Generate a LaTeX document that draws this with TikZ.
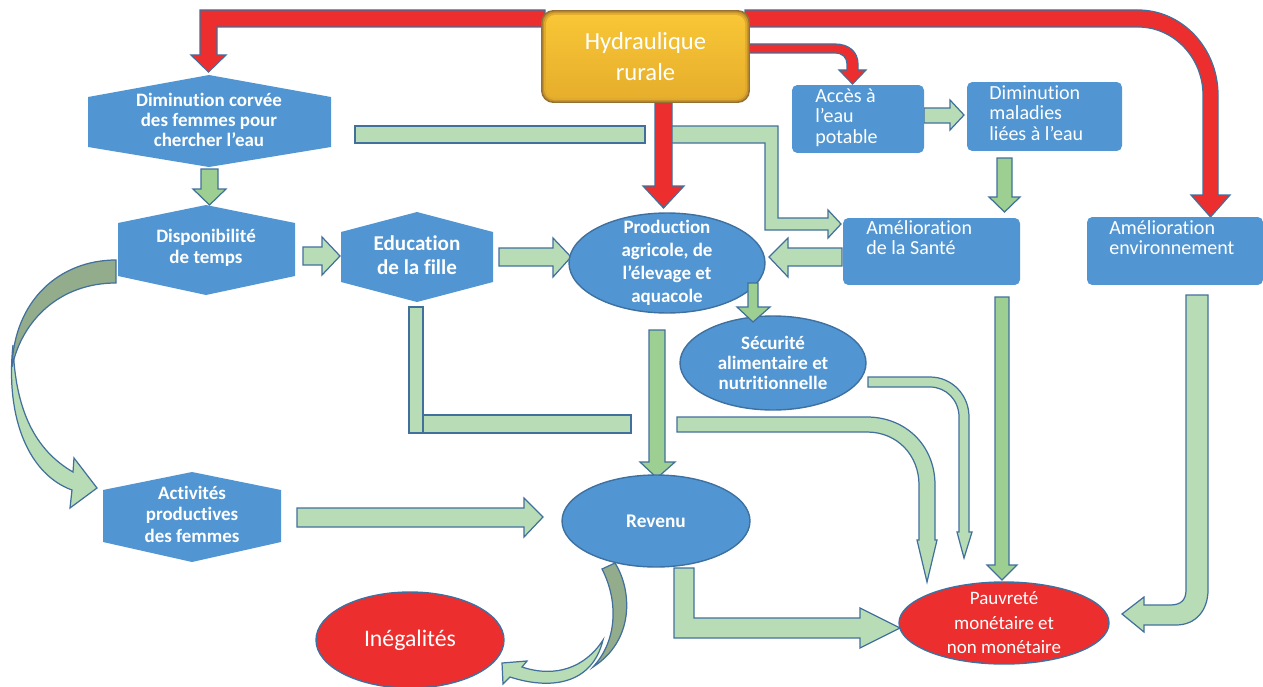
\documentclass[tikz,border=0pt]{standalone}
\usepackage{fontspec}
\setmainfont{Carlito}[Ligatures=NoCommon]
\usetikzlibrary{shapes.geometric}
\definecolor{boxblue}{RGB}{81,150,210}
\definecolor{ovaledge}{RGB}{62,112,160}
\definecolor{edgeblue}{RGB}{66,112,156}
\definecolor{redfill}{RGB}{237,46,46}
\definecolor{lightgreen}{RGB}{184,221,182}
\definecolor{midgreen}{RGB}{157,207,146}
\definecolor{backgreen}{RGB}{146,172,140}
\definecolor{goldedge}{RGB}{150,112,48}
\definecolor{goldmid}{RGB}{196,146,46}
\definecolor{goldin}{RGB}{226,170,44}
\definecolor{goldtop}{RGB}{248,198,54}
\definecolor{goldbot}{RGB}{230,174,44}
\begin{document}
\begin{tikzpicture}[x=0.02cm,y=-0.02cm,
  greenarrow/.style={fill=lightgreen,draw=edgeblue,line width=0.7pt},
  darkarrow/.style={fill=midgreen,draw=edgeblue,line width=0.7pt},
  backarrow/.style={fill=backgreen,draw=edgeblue,line width=0.7pt},
  redarrow/.style={fill=redfill,draw=edgeblue,line width=0.7pt},
  hexshape/.style={fill=boxblue},
  hextext/.style={text=white,font=\bfseries\fontsize{10.8}{11.6}\selectfont,align=center,inner sep=0pt},
  boxshape/.style={rectangle,fill=boxblue,rounded corners=3pt,inner sep=0pt},
  boxtext/.style={text=white,font=\fontsize{11.4}{11.8}\selectfont,align=left,anchor=north west,inner sep=0pt},
  oval/.style={ellipse,draw=ovaledge,line width=0.8pt,inner sep=0pt},
  ovaltext/.style={text=white,align=center,inner sep=0pt},
]
\useasboundingbox (0,0) rectangle (1263,686);

% ---------- green connectors ----------
% bar from the corvee hexagon towards the centre
\draw[greenarrow] (355,126) rectangle (645,143);
% elbow towards health improvement
\draw[greenarrow] (660,126) -- (778,126) -- (778,218) -- (828,218) -- (828,210) -- (841,224)
  -- (828,238) -- (828,230) -- (765,230) -- (765,143) -- (660,143) -- cycle;
% diminution corvee -> disponibilite
\draw[darkarrow] (201,169) -- (218,169) -- (218,189) -- (226,189) -- (209.5,205) -- (193,189)
  -- (201,189) -- cycle;
% disponibilite -> education
\draw[greenarrow] (303,247) -- (322,247) -- (322,237) -- (340,256) -- (322,275) -- (322,265)
  -- (303,265) -- cycle;
% education -> production
\draw[greenarrow] (499,248) -- (553,248) -- (553,238) -- (571,257) -- (553,277) -- (553,266)
  -- (499,266) -- cycle;
% acces -> diminution maladies
\draw[greenarrow] (924,108) -- (950,108) -- (950,100) -- (964,115) -- (950,130) -- (950,123)
  -- (924,123) -- cycle;
% diminution maladies -> sante
\draw[darkarrow] (997,158) -- (1012,158) -- (1012,197) -- (1020,197) -- (1004.5,212) -- (989,197)
  -- (997,197) -- cycle;
% sante -> production
\draw[greenarrow] (842,248) -- (788,248) -- (788,238) -- (769,257) -- (788,277) -- (788,266)
  -- (842,266) -- cycle;
% production -> revenu
\draw[darkarrow] (649,330) -- (665,330) -- (665,462) -- (675,462) -- (657,478) -- (640,462)
  -- (649,462) -- cycle;
% education -> pauvrete (two bars, then curved arrow)
\draw[greenarrow] (409,307) rectangle (423,433);
\draw[greenarrow] (423,415) rectangle (631,433);
\draw[greenarrow] (677,417) -- (867,417) .. controls (905,417) and (935,445) .. (935,485)
  -- (935,540) -- (937,540) -- (927,582) -- (917,540) -- (919,540) -- (919,485)
  .. controls (919,455) and (897,432) .. (867,432) -- (677,432) -- cycle;
% securite -> pauvrete
\draw[greenarrow] (868,377) -- (930,377) .. controls (952,377) and (969,395) .. (969,417)
  -- (969,532) -- (972,532) -- (964,558) -- (957,532) -- (959,532) -- (959,417)
  .. controls (959,400) and (946,387) .. (930,387) -- (868,387) -- cycle;
% sante -> pauvrete
\draw[darkarrow] (995,297) -- (1009,297) -- (1009,565) -- (1017,565) -- (1002,580) -- (987,565)
  -- (995,565) -- cycle;
% environnement -> pauvrete
\draw[greenarrow] (1186,295) -- (1208,295) -- (1208,590) .. controls (1208,610) and (1196,625) .. (1176,625)
  -- (1144,625) -- (1144,632) -- (1122,614) -- (1144,597) -- (1144,605) -- (1170,605)
  .. controls (1181,605) and (1186,600) .. (1186,590) -- cycle;
% revenu -> pauvrete
\draw[greenarrow] (674,568) -- (694,568) -- (694,618) -- (860,618) -- (860,608) -- (900,628)
  -- (860,648) -- (860,638) -- (674,638) -- cycle;
% activites -> revenu
\draw[greenarrow] (297,508) -- (524,508) -- (524,498) -- (543,517) -- (524,537) -- (524,527)
  -- (297,527) -- cycle;
% curved arrow disponibilite -> activites
\draw[greenarrow] (13,345) .. controls (5,420) and (30,475) .. (72,490) -- (70,508) -- (97,488)
  -- (74,458) -- (73,472) .. controls (35,450) and (15,410) .. (13,345) -- cycle;
\draw[backarrow] (116,260) .. controls (60,260) and (14,300) .. (12,367)
  .. controls (22,320) and (60,283) .. (116,283) -- cycle;
% curved arrow revenu -> inegalites
\draw[greenarrow] (603,640) .. controls (592,685) and (550,690) .. (510,677) -- (503,684) -- (502,663)
  -- (527,661) -- (522,667) .. controls (555,678) and (585,668) .. (603,640) -- cycle;
\draw[backarrow] (602,569) -- (615,563) .. controls (632,590) and (635,640) .. (593,667)
  .. controls (618,640) and (618,600) .. (602,569) -- cycle;

% ---------- red connectors ----------
\draw[redarrow] (545,10) -- (200,10) -- (200,55) -- (191,55) -- (208.5,72) -- (226,55) -- (217,55)
  -- (217,27) -- (545,27) -- cycle;
\draw[redarrow] (745,10) -- (1138,10) .. controls (1182,10) and (1218,48) .. (1218,95) -- (1218,195)
  -- (1230,195) -- (1210.5,217) -- (1191,195) -- (1203,195) -- (1203,95)
  .. controls (1203,58) and (1174,27) .. (1138,27) -- (745,27) -- cycle;
\draw[redarrow] (745,44) -- (835,44) .. controls (849,44) and (858,52) .. (858,64) -- (858,70)
  -- (866,70) -- (852.5,84) -- (839,70) -- (847,70) -- (847,64)
  .. controls (847,58) and (843,53) .. (835,53) -- (745,53) -- cycle;
\draw[redarrow] (655,100) -- (672,100) -- (672,186) -- (684,186) -- (663.5,208) -- (643,186)
  -- (655,186) -- cycle;

% ---------- source box (soft bevelled gold) ----------
\node[rectangle,rounded corners=7pt,fill=goldedge,minimum width=4.18cm,minimum height=1.86cm,
  inner sep=0pt] (hyd) at (645.5,56.5) {};
\fill[goldmid,rounded corners=6.5pt] (542.5,11.5) rectangle (748.5,101.5);
\fill[goldin,rounded corners=6pt] (544,13) rectangle (747,100);
\shade[top color=goldtop,bottom color=goldbot,rounded corners=5pt] (546,15) rectangle (745,98);
\node[text=white,font=\fontsize{14}{17.6}\selectfont,align=center] at (hyd) {Hydraulique\\rurale};

% ---------- hexagons ----------
\fill[hexshape] (88,97) -- (209,75) -- (331,97) -- (331,147) -- (209,167) -- (88,147) -- cycle;
\node[hextext] (corvee) at (209,120) {Diminution corvée\\des femmes pour\\chercher l’eau};
\fill[hexshape] (118,223) -- (206,205) -- (295,223) -- (295,276) -- (206,295) -- (118,276) -- cycle;
\node[hextext] (dispo) at (206,248) {Disponibilité\\de temps};
\fill[hexshape] (341,232) -- (417,212) -- (493,232) -- (493,282) -- (417,302) -- (341,282) -- cycle;
\node[hextext,font=\bfseries\fontsize{12}{14}\selectfont] (educ) at (417,255) {Education\\de la fille};
\fill[hexshape] (103,490) -- (192,472) -- (281,490) -- (281,542) -- (192,562) -- (103,542) -- cycle;
\node[hextext,font=\bfseries\fontsize{10.8}{12.2}\selectfont] (activ) at (192,514) {Activités\\productives\\des femmes};

% ---------- rectangles ----------
\node[boxshape,minimum width=2.64cm,minimum height=1.36cm] (acces) at (858,119) {};
\node[boxtext] at (815,88) {Accès à\\l’eau\\potable};
\node[boxshape,minimum width=3.1cm,minimum height=1.38cm] (malad) at (1044.5,116.5) {};
\node[boxtext] at (989,85) {Diminution\\maladies\\liées à l’eau};
\node[boxshape,minimum width=3.54cm,minimum height=1.34cm] (sante) at (931.5,251.5) {};
\node[boxtext] at (866,220) {Amélioration\\de la Santé};
\node[boxshape,minimum width=3.52cm,minimum height=1.36cm] (envir) at (1175,251) {};
\node[boxtext] at (1109,220) {Amélioration\\environnement};

% ---------- ellipses ----------
\node[oval,fill=boxblue,minimum width=3.92cm,minimum height=2.0cm] (prod) at (667,263) {};
\node[ovaltext,font=\bfseries\fontsize{10.8}{13}\selectfont] at (prod) {Production\\agricole, de\\l’élevage et\\aquacole};
\node[oval,fill=boxblue,minimum width=3.72cm,minimum height=1.88cm] (secu) at (773,363) {};
\node[ovaltext,font=\bfseries\fontsize{10.8}{11.6}\selectfont] at (secu) {Sécurité\\alimentaire et\\nutritionnelle};
\node[oval,fill=boxblue,minimum width=3.76cm,minimum height=1.84cm] (reven) at (656,521) {};
\node[ovaltext,font=\bfseries\fontsize{11}{13}\selectfont] at (reven) {Revenu};
\node[oval,fill=redfill,minimum width=4.2cm,minimum height=1.64cm] (pauv) at (1004,623) {};
\node[ovaltext,font=\fontsize{10.8}{13.9}\selectfont] at (pauv) {Pauvreté\\monétaire et\\non monétaire};
\node[oval,fill=redfill,minimum width=3.76cm,minimum height=1.92cm] (inega) at (410,640) {};
\node[ovaltext,font=\fontsize{13.5}{16}\selectfont] at (inega) {Inégalités};

% production -> securite sits over both ellipses
\draw[darkarrow] (748,283) -- (758,283) -- (758,307) -- (770,307) -- (753,322) -- (737,307)
  -- (748,307) -- cycle;
\end{tikzpicture}
\end{document}
